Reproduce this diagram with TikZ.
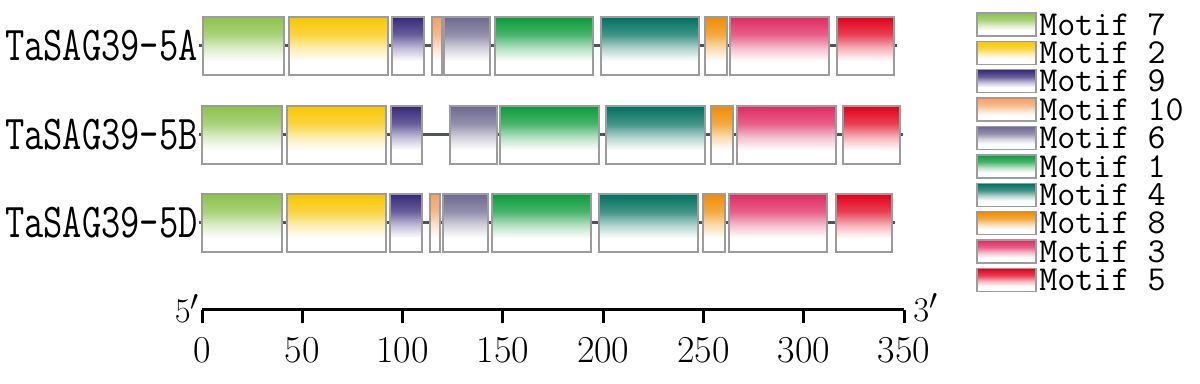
\documentclass[tikz,border=0pt]{standalone}
\usepackage{graphicx}
\usetikzlibrary{positioning}
\definecolor{mseven}{HTML}{8CC34B}
\definecolor{mtwo}{HTML}{F8C600}
\definecolor{mnine}{HTML}{35287A}
\definecolor{mten}{HTML}{F7A060}
\definecolor{msix}{HTML}{6E6990}
\definecolor{mone}{HTML}{0A9B3A}
\definecolor{mfour}{HTML}{00705E}
\definecolor{meight}{HTML}{F08C00}
\definecolor{mthree}{HTML}{E02A62}
\definecolor{mfive}{HTML}{E2001A}
\definecolor{boxgray}{HTML}{9C9C9C}
\definecolor{spine}{HTML}{4F5555}
\colorlet{motifcol}{black}
% box fades from the motif colour at the top to white a quarter above the bottom
\pgfdeclareverticalshading[motifcol]{motiffade}{100bp}{%
  color(0bp)=(white); color(37bp)=(white); color(48bp)=(motifcol!30!white);
  color(60bp)=(motifcol!75!white); color(75bp)=(motifcol); color(100bp)=(motifcol)}
\tikzset{
  motif/.style={
    draw=boxgray,
    line width=0.7pt,
    fill=white,
    inner sep=0pt,
    outer sep=0pt,
    minimum height=29pt,
    anchor=west,
    path picture={
      \colorlet{motifcol}{#1}
      \shade[shading=motiffade]
        (path picture bounding box.south west) rectangle (path picture bounding box.north east);
    }
  },
  swatch/.style={motif=#1, minimum width=29.5pt, minimum height=11.5pt, anchor=center},
  backbone/.style={draw=spine, line width=1.5pt},
  axisline/.style={draw=black, line width=1.5pt},
  genelabel/.style={font=\fontsize{18.7}{20}\selectfont\ttfamily, inner sep=0pt, anchor=base east},
  keytext/.style={font=\fontsize{17.5}{19}\selectfont\ttfamily, inner sep=0pt},
  axisnum/.style={font=\fontsize{19}{21}\selectfont, inner sep=0pt, anchor=base}
}
\begin{document}
\begin{tikzpicture}[x=0.5pt,y=0.5pt]
  \useasboundingbox (0,0) rectangle (1200,384);

  % gene names
  \node[genelabel] (labA) at (198,323.5) {\scalebox{1}[1.3]{TaSAG39-5A}};
  \node[genelabel] (labB) at (198,234.5) {\scalebox{1}[1.3]{TaSAG39-5B}};
  \node[genelabel] (labD) at (198,146.5) {\scalebox{1}[1.3]{TaSAG39-5D}};

  % backbones
  \coordinate (startA) at (199,338);
  \coordinate (endA) at (897,338);
  \coordinate (startB) at (199,249);
  \coordinate (endB) at (903,249);
  \coordinate (startD) at (199,161);
  \coordinate (endD) at (895,161);
  \draw[backbone] (startA) -- (endA);
  \draw[backbone] (startB) -- (endB);
  \draw[backbone] (startD) -- (endD);

  % motifs
  \foreach \a/\b/\c [count=\i] in {203/284/mseven,289/388/mtwo,392/424/mnine,432/442/mten,444/490/msix,
      495/593/mone,601/699/mfour,705/727/meight,730/829/mthree,837/894/mfive}
    \node[motif=\c, minimum width={(\b-\a)*0.5pt}] (A\i) at (\a,338) {};
  \foreach \a/\b/\c [count=\i] in {202/282/mseven,287/386/mtwo,391/422/mnine,450/497/msix,
      500/599/mone,606/705/mfour,711/733/meight,737/836/mthree,843/900/mfive}
    \node[motif=\c, minimum width={(\b-\a)*0.5pt}] (B\i) at (\a,249) {};
  \foreach \a/\b/\c [count=\i] in {202/282/mseven,287/386/mtwo,390/422/mnine,430/440/mten,443/488/msix,
      492/591/mone,599/698/mfour,703/725/meight,729/827/mthree,836/892/mfive}
    \node[motif=\c, minimum width={(\b-\a)*0.5pt}] (D\i) at (\a,161) {};

  % legend
  \foreach \n/\c [count=\i] in {7/mseven,2/mtwo,9/mnine,10/mten,6/msix,1/mone,4/mfour,8/meight,3/mthree,5/mfive} {
    \node[swatch=\c] (key\i) at (1006.5,{359.5-(\i-1)*28.4}) {};
    \node[keytext, right=1.5pt of key\i] (keylab\i) {Motif \n};
  }

  % scale
  \coordinate (ax0) at (202,74);
  \coordinate (ax350) at (904,74);
  \draw[axisline] (ax0) -- (ax350);
  \foreach \v in {0,50,...,350} {
    \draw[axisline] ({202+\v*2.006},74) -- ++(0,-13);
    \node[axisnum] (num\v) at ({202+\v*2.006},21) {\v};
  }
  \node[axisnum, anchor=base east] (five) at ([xshift=-1pt]ax0 |- 0,61) {$5'$};
  \node[axisnum, anchor=base west] (three) at ([xshift=4.5pt]ax350 |- 0,62) {$3'$};
\end{tikzpicture}
\end{document}
